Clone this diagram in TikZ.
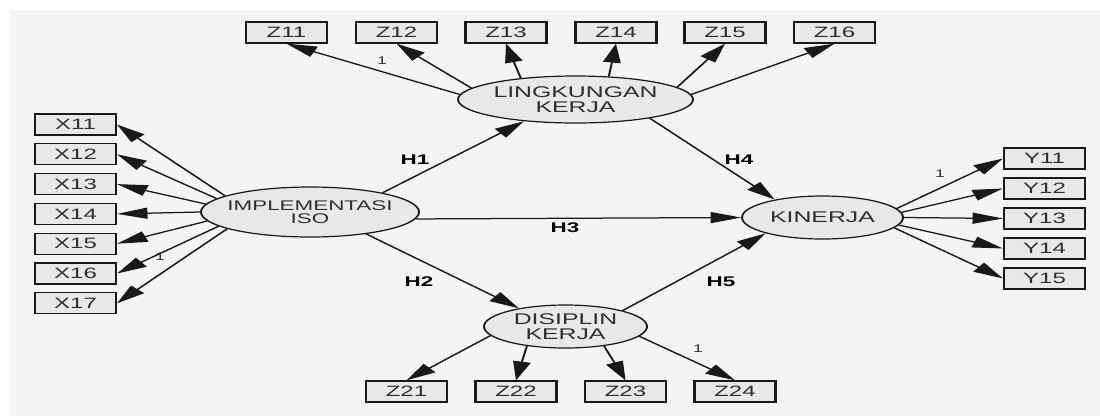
\documentclass[tikz,border=0pt]{standalone}
\usepackage{fontspec}
\setmainfont{Liberation Sans}
\usetikzlibrary{shapes.geometric,arrows.meta}
\definecolor{bggray}{HTML}{F4F4F4}
\definecolor{boxgray}{HTML}{E8E8E8}
\definecolor{txtgray}{HTML}{2E2E2E}
\tikzset{
  ind/.style={draw=black!90,line width=1.3pt,fill=boxgray,minimum width=50.6pt,
    minimum height=21pt,inner sep=0pt,text=txtgray,font=\fontsize{15}{15}\selectfont},
  lat/.style={ellipse,draw=black!90,line width=1.2pt,fill=boxgray,inner sep=0pt,
    align=center,text=txtgray,font=\fontsize{15.5}{14.5}\selectfont},
  lnk/.style={-{Triangle[length=19pt,width=11pt]},line width=1.25pt,draw=black!90},
  hyp/.style={font=\fontsize{14}{14}\selectfont\bfseries},
  one/.style={text=txtgray,font=\fontsize{11}{11}\selectfont}
}
\begin{document}
\begin{tikzpicture}[x=1pt,y=-1pt]
\useasboundingbox (0,0) rectangle (1100,416);
\fill[white] (0,0) rectangle (1100,416);
\fill[bggray] (10,10) rectangle (1100,416);
% the whole model is stretched sideways like the original image
\begin{scope}[transform canvas={xscale=1.6},x=0.625pt]
  % latent variables
  \node[lat,minimum width=146.9pt,minimum height=47pt] (lk) at (575.5,99.5) {LINGKUNGAN\\KERJA};
  \node[lat,minimum width=136.3pt,minimum height=50pt,inner xsep=-4pt,
        font=\fontsize{14}{13.5}\selectfont] (iso) at (310,212) {IMPLEMENTASI\\ISO};
  \node[lat,minimum width=100.6pt,minimum height=43pt] (kin) at (822.5,217.5) {KINERJA};
  \node[lat,minimum width=101.9pt,minimum height=43pt] (dis) at (565.5,326.5) {DISIPLIN\\KERJA};

  % indicators
  \node[ind] (z11) at (286.5,32.5) {Z11};
  \node[ind] (z12) at (396.5,32.5) {Z12};
  \node[ind] (z13) at (506,32.5) {Z13};
  \node[ind] (z14) at (616,32.5) {Z14};
  \node[ind] (z15) at (725,32.5) {Z15};
  \node[ind] (z16) at (834.5,32.5) {Z16};

  \node[ind] (x11) at (75.5,124.5) {X11};
  \node[ind] (x12) at (75.5,154.3) {X12};
  \node[ind] (x13) at (75.5,184.1) {X13};
  \node[ind] (x14) at (75.5,213.9) {X14};
  \node[ind] (x15) at (75.5,243.7) {X15};
  \node[ind] (x16) at (75.5,273.5) {X16};
  \node[ind] (x17) at (75.5,303.3) {X17};

  \node[ind] (y11) at (1044.5,158.5) {Y11};
  \node[ind] (y12) at (1044.5,188.5) {Y12};
  \node[ind] (y13) at (1044.5,218.5) {Y13};
  \node[ind] (y14) at (1044.5,248.5) {Y14};
  \node[ind] (y15) at (1044.5,278.5) {Y15};

  \node[ind] (z21) at (406.5,391.5) {Z21};
  \node[ind] (z22) at (516,391.5) {Z22};
  \node[ind] (z23) at (625.5,391.5) {Z23};
  \node[ind] (z24) at (735,391.5) {Z24};

  % loadings
  \draw[lnk] (lk.176.8) -- (z11.south);
  \draw[lnk] (lk.170.5) -- (z12.south);
  \draw[lnk] (lk.148.4) -- (z13.south);
  \draw[lnk] (lk.48.2) -- (z14.south);
  \draw[lnk] (lk.11.1) -- (z15.south);
  \draw[lnk] (lk.4.8) -- (z16.south);

  \draw[lnk] (iso.163.2) -- (x11.east);
  \draw[lnk] (iso.167) -- (x12.east);
  \draw[lnk] (iso.173.9) -- (x13.east);
  \draw[lnk] (iso.180) -- (x14.east);
  \draw[lnk] (iso.188.7) -- (x15.east);
  \draw[lnk] (iso.194.6) -- (x16.east);
  \draw[lnk] (iso.198.1) -- (x17.east);

  \draw[lnk] (kin.11.5) -- (y11.west);
  \draw[lnk] (kin.6.2) -- (y12.west);
  \draw[lnk] (kin.0) -- (y13.west);
  \draw[lnk] (kin.351.5) -- (y14.west);
  \draw[lnk] (kin.347.3) -- (y15.west);

  \draw[lnk] (dis.191.4) -- (z21.north);
  \draw[lnk] (dis.219.7) -- (z22.north);
  \draw[lnk] (dis.321.6) -- (z23.north);
  \draw[lnk] (dis.348.8) -- (z24.north);

  % structural paths
  \draw[lnk] (iso.23.7) -- (lk.214.4);
  \draw[lnk] (iso.328.5) -- (dis.148.6);
  \draw[lnk] (iso.354.8) -- (kin.west);
  \draw[lnk] (lk.338.7) -- (kin.149.1);
  \draw[lnk] (dis.24.7) -- (kin.204.1);

  \node[hyp] (h1) at (415,160) {H1};
  \node[hyp] (h2) at (419,282) {H2};
  \node[hyp] (h3) at (565,228) {H3};
  \node[hyp] (h4) at (739,160) {H4};
  \node[hyp] (h5) at (721,282) {H5};

  \node[one] (oz) at (382,61) {1};
  \node[one] (ox) at (160,257) {1};
  \node[one] (oy) at (940,174) {1};
  \node[one] (od) at (698,349) {1};
\end{scope}
\end{tikzpicture}
\end{document}
